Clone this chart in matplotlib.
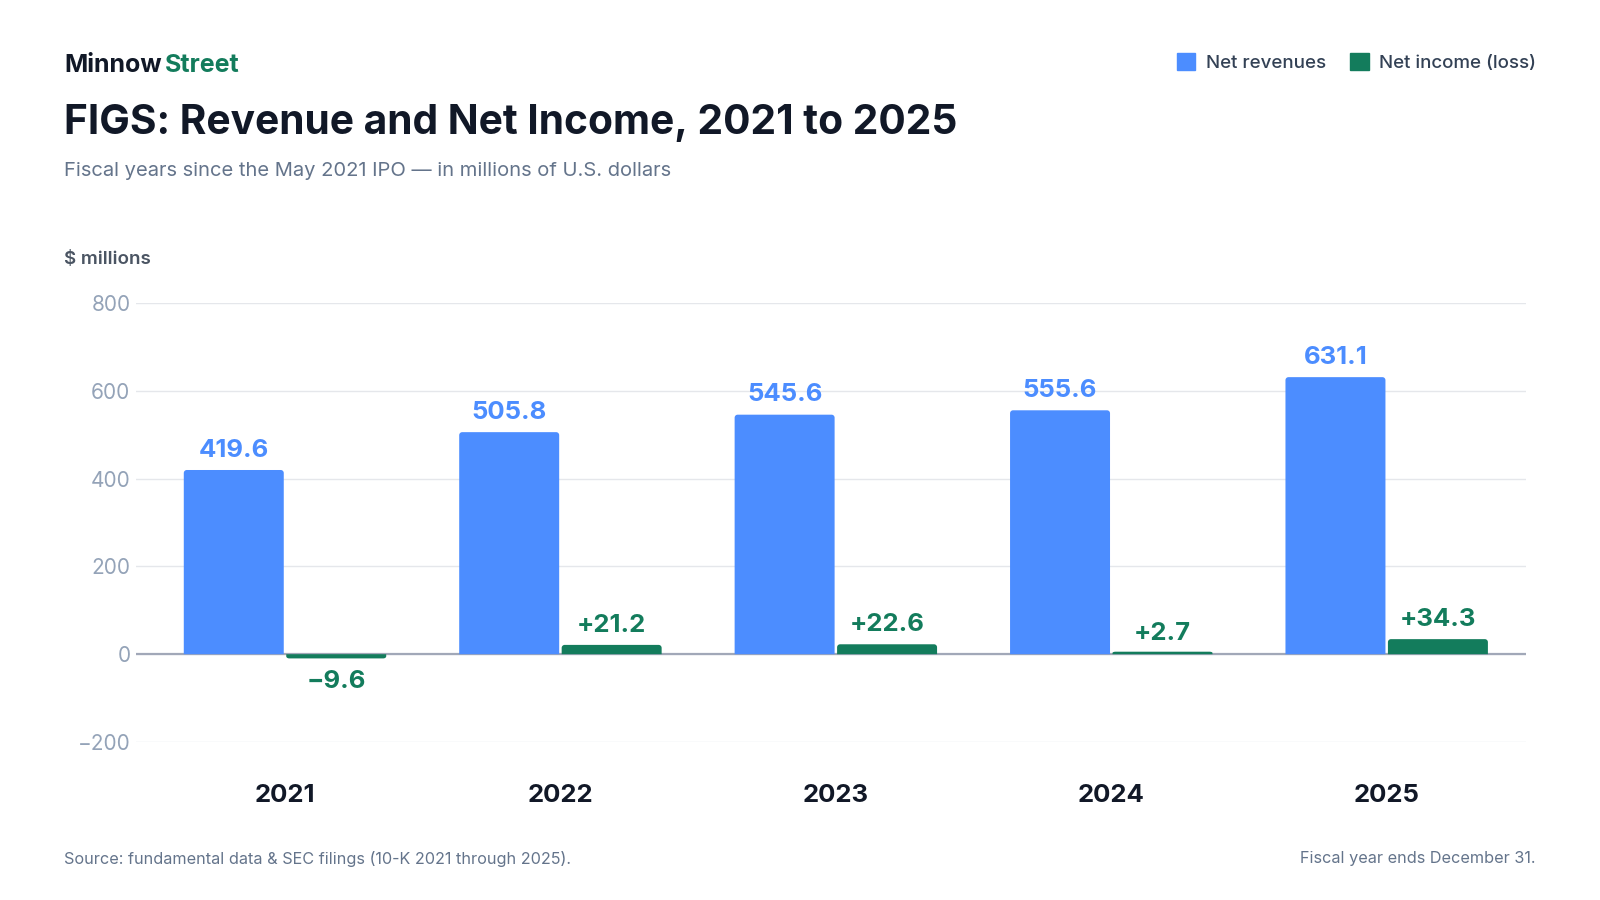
import matplotlib.pyplot as plt
from matplotlib.patches import Polygon, Rectangle
import numpy as np

# values
years = ['2021', '2022', '2023', '2024', '2025']
net_revenues = [419.6, 505.8, 545.6, 555.6, 631.1]
net_income = [-9.6, 21.2, 22.6, 2.7, 34.3]
y_ticks = [-200, 0, 200, 400, 600, 800]

BLUE = '#4C8DFF'
GREEN = '#137C5C'
DARK = '#111827'
SUB = '#64748B'
TICK = '#94A3B8'

plt.rcParams['font.family'] = ['Inter', 'DejaVu Sans']

W, H = 1600, 900
fig = plt.figure(figsize=(16, 9), dpi=100)
ax = fig.add_axes([136 / W, 1 - 742 / H, (1525.5 - 136) / W, (742 - 303) / H])

x = np.arange(len(years))
w = 0.363
off = 0.186
ax.set_xlim(-0.541, 4.504)
ax.set_ylim(-200, 800)

# data units per pixel, for the 3 px rounded outer corners
px_x = (4.504 + 0.541) / (1525.5 - 136)
px_y = 1000 / (742 - 303)
radius = 3
min_px = 2.5  # tiny values still show as a sliver


def rounded_bar(xc, v, color):
    # one outline: square at the baseline, rounded at the far end
    sgn = 1 if v >= 0 else -1
    h = max(abs(v), min_px * px_y)
    rx = radius * px_x
    ry = min(radius * px_y, h / 2)
    x0, x1 = xc - w / 2, xc + w / 2
    t = np.linspace(0, np.pi / 2, 8)
    left = [(x0 + rx - rx * np.cos(a), sgn * (h - ry + ry * np.sin(a))) for a in t]
    right = [(x1 - rx + rx * np.sin(a), sgn * (h - ry + ry * np.cos(a))) for a in t]
    pts = [(x0, 0)] + left + right + [(x1, 0)]
    ax.add_patch(Polygon(pts, closed=True, facecolor=color, edgecolor='none', zorder=3))


for xi, v in zip(x, net_revenues):
    rounded_bar(xi - off, v, BLUE)
for xi, v in zip(x, net_income):
    rounded_bar(xi + off, v, GREEN)

for xi, v in zip(x, net_revenues):
    ax.annotate(f'{v:.1f}', (xi - off, v), xytext=(0, 6), textcoords='offset points',
                ha='center', va='bottom', color=BLUE, fontsize=18.5, fontweight='bold')
for xi, v in zip(x, net_income):
    if v >= 0:
        ax.annotate(f'+{v:.1f}', (xi + off, v), xytext=(0, 6), textcoords='offset points',
                    ha='center', va='bottom', color=GREEN, fontsize=18.5, fontweight='bold')
    else:
        ax.annotate(f'\u2212{abs(v):.1f}', (xi + off, v), xytext=(0, -8), textcoords='offset points',
                    ha='center', va='top', color=GREEN, fontsize=18.5, fontweight='bold')

ax.set_yticks(y_ticks)
ax.set_yticklabels([f'\u2212{abs(t)}' if t < 0 else str(t) for t in y_ticks])
ax.set_xticks(x)
ax.set_xticklabels(years)
ax.grid(axis='y', color='#E5E7EB', lw=1, zorder=0)
ax.axhline(0, color='#A1A8B8', lw=1.6, zorder=2)
for s in ax.spines.values():
    s.set_visible(False)
ax.tick_params(axis='y', length=0, pad=4, labelsize=15, labelcolor=TICK)
ax.tick_params(axis='x', length=0, pad=30, labelsize=18.5, labelcolor=DARK)
for lab in ax.get_xticklabels():
    lab.set_fontweight('bold')

# header
fig.text(64 / W, 1 - 65 / H, 'Minnow', fontsize=18, fontweight='bold', color=DARK, va='center')
fig.text(164.5 / W, 1 - 65 / H, 'Street', fontsize=18, fontweight='bold', color=GREEN, va='center')
fig.text(64 / W, 1 - 122.5 / H, 'FIGS: Revenue and Net Income, 2021 to 2025',
         fontsize=29.3, fontweight='bold', color=DARK, va='center')
fig.text(64 / W, 1 - 171 / H, 'Fiscal years since the May 2021 IPO \u2014 in millions of U.S. dollars',
         fontsize=14.5, color=SUB, va='center')
fig.text(64 / W, 1 - 259 / H, '$ millions', fontsize=13.5, fontweight='semibold',
         color='#4B5563', va='center')

# legend
handles = [Rectangle((0, 0), 1, 1, color=BLUE), Rectangle((0, 0), 1, 1, color=GREEN)]
fig.legend(handles, ['Net revenues', 'Net income (loss)'], loc='center right',
           bbox_to_anchor=(1553 / W, 1 - 62.5 / H), ncol=2, frameon=False,
           prop={'size': 13.5, 'weight': 'medium'}, labelcolor='#334155',
           handlelength=1.0, handleheight=1.0, handletextpad=0.55, columnspacing=1.3)

# footer
fig.text(64 / W, 1 - 859 / H, 'Source: fundamental data & SEC filings (10-K 2021 through 2025).',
         fontsize=11.7, color=SUB, va='center')
fig.text(1536 / W, 1 - 859 / H, 'Fiscal year ends December 31.',
         fontsize=11.7, color=SUB, va='center', ha='right')

fig.savefig('out.png', dpi=100, facecolor='white')
